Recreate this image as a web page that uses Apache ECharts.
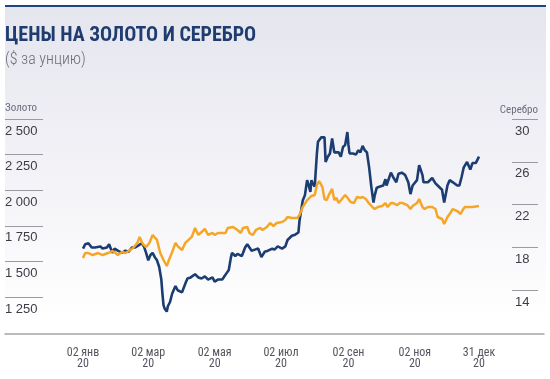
<!DOCTYPE html>
<html><head><meta charset="utf-8">
<script src="https://cdn.jsdelivr.net/npm/echarts@6/dist/echarts.min.js"></script>
<style>html,body{margin:0;padding:0;background:#fff}#c{width:550px;height:379px}</style>
</head><body><div id="c"></div>
<script>
const titleText = 'ЦЕНЫ НА ЗОЛОТО И СЕРЕБРО';
const subtitleText = '($ за унцию)';
const goldName = 'Золото';
const silverName = 'Серебро';
const goldAxisRange = [1250, 2500, 250];
const silverAxisRange = [14, 30, 4];
const silverDataFloor = 12;
const xLabelDates = ['2020-01-02','2020-03-02','2020-05-02','2020-07-02','2020-09-02','2020-11-02','2020-12-31'];
const monthsRu = ['янв','фев','мар','апр','мая','июн','июл','авг','сен','окт','ноя','дек'];

const goldDates = [
'2020-01-02','2020-01-04','2020-01-07','2020-01-11','2020-01-16','2020-01-20','2020-01-25','2020-01-29','2020-01-31','2020-02-03',
'2020-02-07','2020-02-10','2020-02-13','2020-02-17','2020-02-21','2020-02-23','2020-02-26','2020-02-29','2020-03-03','2020-03-06',
'2020-03-10','2020-03-13','2020-03-16','2020-03-17','2020-03-19','2020-03-21','2020-03-24','2020-03-27','2020-03-29','2020-04-02',
'2020-04-05','2020-04-08','2020-04-11','2020-04-14','2020-04-17','2020-04-20','2020-04-23','2020-04-26','2020-04-30','2020-05-02',
'2020-05-05','2020-05-09','2020-05-12','2020-05-14','2020-05-19','2020-05-23','2020-05-26','2020-05-28','2020-06-01','2020-06-03',
'2020-06-06','2020-06-09','2020-06-13','2020-06-15','2020-06-19','2020-06-22','2020-06-25','2020-06-28','2020-07-03','2020-07-06',
'2020-07-08','2020-07-12','2020-07-17','2020-07-19','2020-07-22','2020-07-26','2020-07-30','2020-08-02','2020-08-04','2020-08-06',
'2020-08-09','2020-08-11','2020-08-13','2020-08-15','2020-08-18','2020-08-20','2020-08-22','2020-08-24','2020-08-27','2020-08-30',
'2020-09-02','2020-09-04','2020-09-07','2020-09-10','2020-09-13','2020-09-15','2020-09-18','2020-09-20','2020-09-24','2020-09-26',
'2020-09-29','2020-10-03','2020-10-06','2020-10-08','2020-10-11','2020-10-13','2020-10-17','2020-10-19','2020-10-22','2020-10-26',
'2020-10-29','2020-10-31','2020-11-04','2020-11-06','2020-11-09','2020-11-11','2020-11-14','2020-11-18','2020-11-21','2020-11-23',
'2020-11-27','2020-11-29','2020-12-02','2020-12-04','2020-12-07','2020-12-11','2020-12-14','2020-12-16','2020-12-18','2020-12-21',
'2020-12-25','2020-12-31'];
const goldValues = [
1608,1643,1643,1629,1643,1629,1643,1657,1650,1629,
1650,1643,1657,1678,1714,1756,1707,1685,1714,1770,
1735,1643,1594,1608,1552,1594,1650,1714,1692,1664,
1714,1735,1756,1819,1770,1791,1812,1770,1784,1770,
1784,1784,1784,1819,1826,1805,1784,1819,1826,1784,
1770,1805,1819,1805,1826,1854,1833,1854,1861,1875,
1896,1889,1889,1910,1966,2015,2044,2051,2121,2149,
2107,2022,2015,2051,2093,2015,2030,1994,2022,2051,
2022,2001,1994,2037,2030,2037,2022,2001,1966,1952,
1966,1973,1994,1966,1994,1994,1980,1994,1994,1980,
1952,1973,1994,2022,1966,1952,1966,1966,1952,1896,
1882,1847,1896,1917,1952,1938,1917,1945,1966,1966,
1966,1973];

const silverDates = [
'2020-01-02','2020-01-04','2020-01-07','2020-01-10','2020-01-13','2020-01-18','2020-01-20','2020-01-24','2020-01-26','2020-01-29',
'2020-01-31','2020-02-03','2020-02-07','2020-02-10','2020-02-13','2020-02-16','2020-02-19','2020-02-22','2020-02-25','2020-02-27',
'2020-02-29','2020-03-02','2020-03-04','2020-03-06','2020-03-08','2020-03-10','2020-03-12','2020-03-14','2020-03-15','2020-03-16',
'2020-03-17','2020-03-19','2020-03-20','2020-03-22','2020-03-24','2020-03-27','2020-03-29','2020-04-02','2020-04-05','2020-04-07',
'2020-04-10','2020-04-14','2020-04-17','2020-04-20','2020-04-23','2020-04-26','2020-04-30','2020-05-02','2020-05-05','2020-05-09',
'2020-05-11','2020-05-13','2020-05-15','2020-05-17','2020-05-18','2020-05-21','2020-05-23','2020-05-27','2020-05-30','2020-06-01',
'2020-06-05','2020-06-08','2020-06-11','2020-06-14','2020-06-17','2020-06-20','2020-06-24','2020-06-26','2020-06-29','2020-07-03',
'2020-07-06','2020-07-08','2020-07-12','2020-07-15','2020-07-18','2020-07-19','2020-07-22','2020-07-24','2020-07-26','2020-07-27',
'2020-07-29','2020-07-30','2020-07-31','2020-08-02','2020-08-04','2020-08-05','2020-08-08','2020-08-11','2020-08-12','2020-08-14',
'2020-08-16','2020-08-18','2020-08-20','2020-08-22','2020-08-24','2020-08-26','2020-08-28','2020-08-30','2020-09-01','2020-09-02',
'2020-09-03','2020-09-06','2020-09-09','2020-09-11','2020-09-13','2020-09-15','2020-09-17','2020-09-19','2020-09-21','2020-09-23',
'2020-09-25','2020-09-26','2020-09-28','2020-10-01','2020-10-04','2020-10-06','2020-10-07','2020-10-11','2020-10-13','2020-10-16',
'2020-10-18','2020-10-21','2020-10-24','2020-10-27','2020-10-29','2020-10-31','2020-11-04','2020-11-06','2020-11-09','2020-11-10',
'2020-11-14','2020-11-18','2020-11-21','2020-11-23','2020-11-27','2020-11-29','2020-12-02','2020-12-04','2020-12-07','2020-12-11',
'2020-12-13','2020-12-15','2020-12-17','2020-12-20','2020-12-23','2020-12-25','2020-12-28','2020-12-31'];
const silverValues = [
19.0,19.4,19.5,19.1,19.1,19.2,19.0,19.1,19.4,18.6,
19.0,18.8,18.6,18.8,18.7,19.1,19.1,19.3,19.5,19.2,
18.6,17.9,18.4,18.6,18.2,17.9,17.3,16.1,14.8,13.7,
13.4,13.1,13.6,14.0,14.8,15.5,15.1,14.9,15.7,16.2,
16.3,16.6,16.3,16.2,16.4,16.1,16.3,15.9,16.1,16.1,
16.4,16.7,17.0,18.2,18.6,18.3,18.5,18.3,19.1,19.4,
18.8,18.9,19.0,18.2,18.7,18.8,19.0,18.9,19.2,19.0,
19.2,19.8,20.2,20.3,20.5,21.6,23.5,24.0,25.4,25.1,
24.3,25.4,25.1,24.8,27.9,29.0,29.4,29.4,27.1,27.6,
27.9,29.3,28.0,28.0,28.0,27.6,28.5,28.7,29.9,28.7,
27.9,27.9,27.8,28.2,28.0,28.6,28.2,28.0,26.6,24.8,
23.3,23.9,24.7,24.8,24.9,25.5,24.9,26.1,25.7,25.2,
26.0,26.1,25.9,25.2,24.1,24.9,25.4,26.8,25.9,25.2,
25.2,25.6,25.1,24.9,24.5,23.3,24.9,25.4,25.2,24.9,
24.9,25.7,26.6,27.1,26.4,27.0,27.0,27.6];

function ts(s){ const p = s.split('-').map(Number); return Date.UTC(p[0], p[1]-1, p[2]); }
const xMin = ts(xLabelDates[0]), xMax = ts(xLabelDates[xLabelDates.length-1]);
function pairs(ds, vs){ return ds.map((d,i)=>[ts(d), vs[i]]); }
function fmtThousands(v){ return String(v).replace(/\B(?=(\d{3})+(?!\d))/g, ' '); }
function fmtDate(v){ const d = new Date(v); return String(d.getUTCDate()).padStart(2,'0') + ' ' + monthsRu[d.getUTCMonth()] + '\n' + String(d.getUTCFullYear()).slice(2); }

const NARROW = "'Roboto Condensed','Liberation Sans Narrow','Roboto',sans-serif";
const SANS = "'Liberation Sans',Arial,sans-serif";
const hiddenX = (gi) => ({ gridIndex: gi, type: 'value', min: xMin, max: xMax, show: false });

// silver scale: 30 at top 131, 14 at 302 (171px / 16 units)
const silverPx = 171 / (silverAxisRange[1] - silverAxisRange[0]);
const silverDataHeight = (silverAxisRange[1] - silverDataFloor) * silverPx;

const chart = echarts.init(document.getElementById('c'), null, {renderer: 'canvas'});
chart.setOption({
  animation: false,
  backgroundColor: '#ffffff',
  graphic: [
    { type: 'rect', z: -100, shape: { x: 5, y: 7, width: 541, height: 372 },
      style: { fill: { type: 'linear', x: 0, y: 0, x2: 0, y2: 1, colorStops: [
        { offset: 0, color: '#e5e5ee' }, { offset: 0.85, color: '#ffffff' }, { offset: 1, color: '#ffffff' } ] } } },
    { type: 'rect', z: -90, shape: { x: 5, y: 5, width: 541, height: 2 }, style: { fill: '#1d4580' } }
  ],
  title: [
    { text: titleText, left: 0, top: 21, textStyle: { fontFamily: NARROW, fontWeight: 'bold', fontSize: 20, color: '#1f3c70' } },
    { text: subtitleText, left: 0, top: 47, textStyle: { fontFamily: NARROW, fontWeight: 300, fontSize: 16, color: '#6d6d7d' } }
  ],
  grid: [
    { left: 83, right: 71, top: 131, height: 178 },
    { left: 83, right: 71, top: 131, height: silverDataHeight },
    { left: 5, width: 300, top: 119, height: 178 },
    { right: 12, width: 200, top: 119, height: 171 },
    { left: 5, right: 6, top: 300, height: 34 },
    { left: 83, right: 71, top: 131, height: 171 }
  ],
  xAxis: [
    { gridIndex: 0, type: 'value', min: xMin, max: xMax,
      axisLine: { show: false }, axisTick: { show: false }, splitLine: { show: false },
      axisLabel: { customValues: xLabelDates.map(ts), formatter: fmtDate, margin: 38,
        fontFamily: NARROW, fontSize: 12, lineHeight: 11, color: '#555560' } },
    hiddenX(1), hiddenX(2), hiddenX(3),
    { gridIndex: 4, type: 'value', min: 0, max: 1, axisLine: { show: true, lineStyle: { color: '#a5a5a5', width: 1.5 } },
      axisTick: { show: false }, axisLabel: { show: false }, splitLine: { show: false } },
    hiddenX(5)
  ],
  yAxis: [
    { gridIndex: 0, type: 'value', position: 'left', min: goldAxisRange[0], max: goldAxisRange[1], interval: goldAxisRange[2],
      axisLine: { show: false }, axisTick: { show: false }, splitLine: { show: false },
      axisLabel: { align: 'left', margin: 78, formatter: fmtThousands, fontFamily: SANS, fontSize: 13, color: '#3c3c46' } },
    { gridIndex: 1, type: 'value', position: 'right', min: silverDataFloor, max: silverAxisRange[1], show: false },
    { gridIndex: 2, type: 'value', position: 'left', min: goldAxisRange[0], max: goldAxisRange[1], interval: goldAxisRange[2],
      axisLine: { show: false }, splitLine: { show: false }, axisLabel: { show: false },
      axisTick: { show: true, inside: true, length: 38, lineStyle: { color: '#9a9aa2', width: 1 } },
      name: goldName, nameLocation: 'end', nameGap: 11,
      nameTextStyle: { align: 'left', verticalAlign: 'middle', fontFamily: NARROW, fontSize: 11, color: '#6d6d7d' } },
    { gridIndex: 3, type: 'value', position: 'right', min: silverAxisRange[0], max: silverAxisRange[1], interval: silverAxisRange[2],
      axisLine: { show: false }, splitLine: { show: false }, axisLabel: { show: false },
      axisTick: { show: true, inside: true, length: 26, lineStyle: { color: '#9a9aa2', width: 1 } },
      name: silverName, nameLocation: 'end', nameGap: 9,
      nameTextStyle: { align: 'right', verticalAlign: 'middle', fontFamily: NARROW, fontSize: 11, color: '#6d6d7d' } },
    { gridIndex: 4, type: 'value', show: false },
    { gridIndex: 5, type: 'value', position: 'right', min: silverAxisRange[0], max: silverAxisRange[1], interval: silverAxisRange[2],
      axisLine: { show: false }, axisTick: { show: false }, splitLine: { show: false },
      axisLabel: { align: 'left', margin: 36, fontFamily: SANS, fontSize: 13, color: '#3c3c46' } }
  ],
  series: [
    { name: silverName, type: 'line', xAxisIndex: 1, yAxisIndex: 1, data: pairs(silverDates, silverValues),
      showSymbol: false, lineStyle: { color: '#1c3d72', width: 2.6 } },
    { name: goldName, type: 'line', xAxisIndex: 0, yAxisIndex: 0, data: pairs(goldDates, goldValues),
      showSymbol: false, lineStyle: { color: '#f6a626', width: 2.5 } }
  ]
});
</script></body></html>
